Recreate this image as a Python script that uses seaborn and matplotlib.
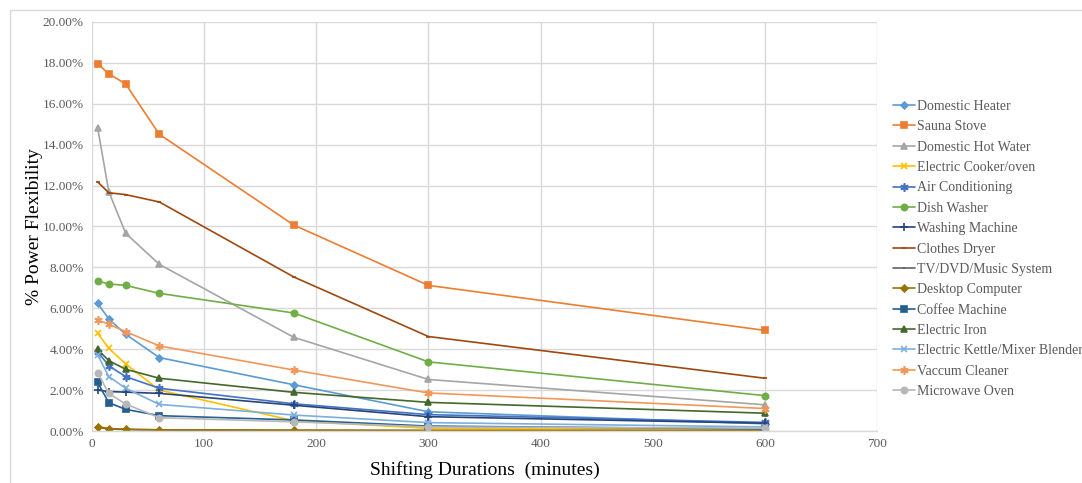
import numpy as np
import pandas as pd
import matplotlib
matplotlib.use("Agg")
import matplotlib.pyplot as plt
from matplotlib.patches import Rectangle
from matplotlib.ticker import FuncFormatter, MultipleLocator
import seaborn as sns

durations = [5, 15, 30, 60, 180, 300, 600]

domestic_heater = [6.24, 5.48, 4.73, 3.59, 2.26, 0.94, 0.35]
sauna_stove = [17.96, 17.47, 16.97, 14.51, 10.07, 7.12, 4.92]
domestic_hot_water = [14.83, 11.70, 9.67, 8.15, 4.58, 2.52, 1.28]
electric_cooker = [4.78, 4.04, 3.28, 2.00, 0.50, 0.13, 0.05]
air_conditioning = [3.88, 3.19, 2.66, 2.09, 1.33, 0.80, 0.42]
dish_washer = [7.33, 7.19, 7.12, 6.73, 5.77, 3.38, 1.73]
washing_machine = [2.00, 1.93, 1.90, 1.84, 1.26, 0.70, 0.38]
clothes_dryer = [12.18, 11.65, 11.56, 11.20, 7.53, 4.62, 2.58]
tv_dvd_music = [0.18, 0.10, 0.07, 0.05, 0.03, 0.02, 0.01]
desktop_computer = [0.21, 0.12, 0.09, 0.06, 0.04, 0.03, 0.02]
coffee_machine = [2.38, 1.38, 1.06, 0.75, 0.54, 0.24, 0.10]
electric_iron = [3.99, 3.44, 3.02, 2.58, 1.89, 1.40, 0.87]
electric_kettle = [3.72, 2.66, 2.09, 1.30, 0.78, 0.41, 0.20]
vaccum_cleaner = [5.43, 5.22, 4.86, 4.16, 2.98, 1.86, 1.10]
microwave_oven = [2.85, 1.84, 1.32, 0.65, 0.45, 0.20, 0.14]

series_names = ["Domestic Heater", "Sauna Stove", "Domestic Hot Water", "Electric Cooker/oven",
                "Air Conditioning", "Dish Washer", "Washing Machine", "Clothes Dryer",
                "TV/DVD/Music System", "Desktop Computer", "Coffee Machine", "Electric Iron",
                "Electric Kettle/Mixer Blender", "Vaccum Cleaner", "Microwave Oven"]
series_values = [domestic_heater, sauna_stove, domestic_hot_water, electric_cooker,
                 air_conditioning, dish_washer, washing_machine, clothes_dryer,
                 tv_dvd_music, desktop_computer, coffee_machine, electric_iron,
                 electric_kettle, vaccum_cleaner, microwave_oven]

colors = ["#5B9BD5", "#ED7D31", "#A5A5A5", "#FFC000", "#4472C4", "#70AD47", "#264478",
          "#9E480E", "#636363", "#997300", "#255E91", "#43682B", "#7CAFDD", "#F1975A", "#B7B7B7"]
asterisk = (6, 2, 0)
markers = ["D", "s", "^", "x", asterisk, "o", "+", "_", "_", "D", "s", "^", "x", asterisk, "o"]
msizes = [3.5, 5, 4.5, 5, 6, 4.5, 6, 3, 2, 3.5, 5, 4.5, 5, 6, 4.5]

rows = []
for name, vals in zip(series_names, series_values):
    for d, v in zip(durations, vals):
        rows.append({"Appliance": name, "Duration": d, "Value": v})
df = pd.DataFrame(rows)

sns.set_theme(style="white")
plt.rcParams["font.family"] = ["Liberation Serif", "DejaVu Serif"]

fig = plt.figure(figsize=(10.82, 4.83), dpi=100)
ax = fig.add_axes([92 / 1082, 1 - 431 / 483, (877 - 92) / 1082, (431 - 22) / 483])

for name, col, mk, ms in zip(series_names, colors, markers, msizes):
    sub = df[df["Appliance"] == name]
    sns.lineplot(data=sub, x="Duration", y="Value", ax=ax, color=col, marker=mk,
                 markersize=ms, markeredgecolor=col, markerfacecolor=col,
                 markeredgewidth=1.2, linewidth=1.2, label=name, sort=False)

ax.set_xlim(0, 700)
ax.set_ylim(0, 20)
ax.xaxis.set_major_locator(MultipleLocator(100))
ax.yaxis.set_major_locator(MultipleLocator(2))
ax.yaxis.set_major_formatter(FuncFormatter(lambda v, p: f"{v:.2f}%"))
ax.grid(True, color="#D9D9D9", linewidth=1.0)
ax.set_axisbelow(True)
for s in ["top", "right", "left"]:
    ax.spines[s].set_visible(False)
ax.spines["bottom"].set_color("#D9D9D9")
ax.spines["bottom"].set_linewidth(1.0)
ax.tick_params(axis="y", length=0, labelsize=9.5, colors="#595959", pad=6)
ax.tick_params(axis="x", length=0, labelsize=9.5, colors="#595959", pad=5)
ax.set_xlabel("Shifting Durations  (minutes)", fontsize=14, color="black", labelpad=8)
ax.set_ylabel("% Power Flexibility", fontsize=14, color="black", labelpad=0)

leg = ax.legend(loc="upper left", bbox_to_anchor=(893 / 1082, 1 - 100 / 483),
                bbox_transform=fig.transFigure, frameon=False, fontsize=10,
                handlelength=1.6, handletextpad=0.1, labelspacing=0.53,
                borderaxespad=0, borderpad=0)
for t in leg.get_texts():
    t.set_color("#595959")

fig.patches.append(Rectangle((10 / 1082, -0.1), 1.2, 1 - 10 / 483 + 0.1,
                             transform=fig.transFigure, fill=False,
                             edgecolor="#D9D9D9", linewidth=1.0, zorder=0))

fig.savefig("out.png", dpi=100)
